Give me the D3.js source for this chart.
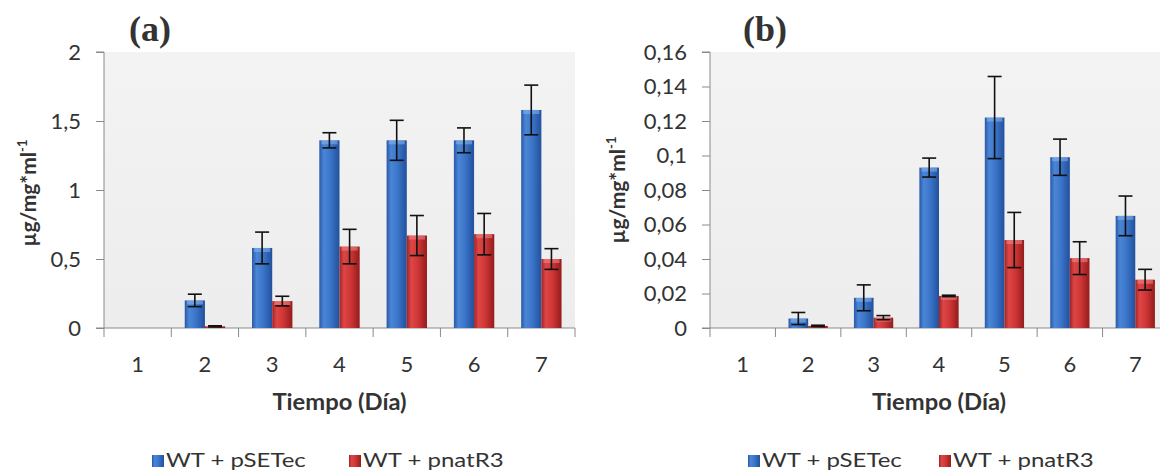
<!DOCTYPE html>
<html>
<head>
<meta charset="utf-8">
<script src="https://cdn.jsdelivr.net/npm/d3@7"></script>
<style>
  html, body { margin: 0; padding: 0; background: #fff; }
  svg { display: block; }
  text { font-family: Lato, "Open Sans", sans-serif; fill: #333; }
</style>
</head>
<body>
<svg id="chart" width="1160" height="473"></svg>
<script>
// Days of culture
const days = ["1", "2", "3", "4", "5", "6", "7"];
const seriesNames = ["WT + pSETec", "WT + pnatR3"];

// Panel (a)
const aSETec     = [0, 0.20, 0.58, 1.36, 1.36, 1.36, 1.58];
const aSETecErr  = [0, 0.045, 0.115, 0.055, 0.145, 0.09, 0.18];
const aNatR3     = [0, 0.012, 0.195, 0.59, 0.67, 0.68, 0.50];
const aNatR3Err  = [0, 0.004, 0.035, 0.125, 0.145, 0.15, 0.075];
const aTicks      = [0, 0.5, 1, 1.5, 2];
const aTickLabels = ["0", "0,5", "1", "1,5", "2"];

// Panel (b)
const bSETec     = [0, 0.0055, 0.0175, 0.093, 0.122, 0.099, 0.065];
const bSETecErr  = [0, 0.0035, 0.0075, 0.0055, 0.0238, 0.0105, 0.0115];
const bNatR3     = [0, 0.0012, 0.006, 0.0186, 0.051, 0.0405, 0.028];
const bNatR3Err  = [0, 0.0004, 0.0012, 0.0004, 0.016, 0.0095, 0.006];
const bTicks      = [0, 0.02, 0.04, 0.06, 0.08, 0.1, 0.12, 0.14, 0.16];
const bTickLabels = ["0", "0,02", "0,04", "0,06", "0,08", "0,1", "0,12", "0,14", "0,16"];

const svg = d3.select("#chart");
const defs = svg.append("defs");

// Cylinder-like shading for the bars
function addGradient(id, stops, vertical) {
  const g = defs.append("linearGradient").attr("id", id)
    .attr("x1", "0%").attr("x2", vertical ? "0%" : "100%")
    .attr("y1", "0%").attr("y2", vertical ? "100%" : "0%");
  stops.forEach(([o, c]) => g.append("stop").attr("offset", o).attr("stop-color", c));
}
addGradient("gBlue", [["0%", "#2a58a6"], ["22%", "#4a86d6"], ["55%", "#3b75c9"], ["100%", "#22509c"]]);
addGradient("gRed",  [["0%", "#a02424"], ["22%", "#de4646"], ["55%", "#cf3636"], ["100%", "#941c1c"]]);
addGradient("gBack", [["0%", "#f3f3f3"], ["100%", "#ededed"]], true);
const fills = ["url(#gBlue)", "url(#gRed)"];
const capFills = ["#8ab8ee", "#f08a8a"];

function drawPanel(cfg) {
  const g = svg.append("g");
  const x = d3.scaleBand().domain(days).range([cfg.left, cfg.right]).paddingInner(0).paddingOuter(0);
  const xs = d3.scaleBand().domain(seriesNames).range([x.bandwidth() * 0.2, x.bandwidth() * 0.8]);
  const y = d3.scaleLinear().domain([0, cfg.max]).range([cfg.bottom, cfg.top]);

  // plot background
  g.append("rect")
    .attr("x", cfg.left).attr("y", cfg.top)
    .attr("width", cfg.right - cfg.left).attr("height", cfg.bottom - cfg.top)
    .attr("fill", "url(#gBack)");

  // y axis
  const yAxis = d3.axisLeft(y).tickValues(cfg.ticks)
    .tickFormat((d, i) => cfg.tickLabels[i]).tickSize(8).tickPadding(15);
  const ya = g.append("g").attr("transform", `translate(${cfg.left},0)`).call(yAxis);
  ya.select(".domain").attr("stroke", "#8a8a8a").attr("d", `M-8,${cfg.top}H0V${cfg.bottom}H-8`);
  ya.selectAll(".tick line").attr("stroke", "#8a8a8a");
  ya.selectAll(".tick text").attr("font-size", 22).attr("fill", "#333")
    .style("font-family", "Lato, sans-serif");

  // x axis: ticks sit between categories
  const edges = days.map(d => x(d)).concat([cfg.right]);
  const xa = g.append("g");
  xa.append("line").attr("x1", cfg.left).attr("x2", cfg.right)
    .attr("y1", cfg.bottom).attr("y2", cfg.bottom).attr("stroke", "#8a8a8a");
  xa.selectAll("line.tk").data(edges).join("line").attr("class", "tk")
    .attr("x1", d => d).attr("x2", d => d)
    .attr("y1", cfg.bottom).attr("y2", cfg.bottom + 9).attr("stroke", "#8a8a8a");
  xa.selectAll("text").data(days).join("text")
    .attr("x", d => x(d) + x.bandwidth() / 2).attr("y", 372)
    .attr("text-anchor", "middle").attr("font-size", 22).text(d => d);

  // bars
  const series = [cfg.s1, cfg.s2];
  const errs = [cfg.e1, cfg.e2];
  series.forEach((vals, si) => {
    const name = seriesNames[si];
    const bars = g.append("g");
    const rows = vals.map((v, i) => ({ day: days[i], v }));
    bars.selectAll("rect.bar").data(rows).join("rect").attr("class", "bar")
      .attr("x", d => x(d.day) + xs(name))
      .attr("y", d => y(d.v))
      .attr("width", xs.bandwidth())
      .attr("height", d => cfg.bottom - y(d.v))
      .attr("fill", fills[si]);
    bars.selectAll("rect.cap").data(rows.filter(d => cfg.bottom - y(d.v) > 6)).join("rect")
      .attr("class", "cap")
      .attr("x", d => x(d.day) + xs(name) + 2)
      .attr("y", d => y(d.v))
      .attr("width", xs.bandwidth() - 4)
      .attr("height", 4)
      .attr("fill", capFills[si]).attr("opacity", 0.55);
  });

  // error bars
  series.forEach((vals, si) => {
    const name = seriesNames[si];
    const eg = g.append("g").attr("stroke", "#111").attr("stroke-width", 1.6);
    vals.forEach((v, i) => {
      if (v === 0) return;
      const cx = x(days[i]) + xs(name) + xs.bandwidth() / 2;
      const hi = y(v + errs[si][i]), lo = y(Math.max(0, v - errs[si][i]));
      eg.append("line").attr("x1", cx).attr("x2", cx).attr("y1", hi).attr("y2", lo);
      eg.append("line").attr("x1", cx - 7).attr("x2", cx + 7).attr("y1", hi).attr("y2", hi);
      eg.append("line").attr("x1", cx - 7).attr("x2", cx + 7).attr("y1", lo).attr("y2", lo);
    });
  });

  // panel letter
  g.append("text").attr("x", cfg.titleX).attr("y", 41)
    .style("font-family", "'Liberation Serif', 'Times New Roman', serif")
    .attr("font-weight", "bold").attr("font-size", 36).attr("fill", "#111").text(cfg.title);

  // y axis title
  const yt = g.append("text")
    .attr("transform", `translate(${cfg.yTitleX},${cfg.yTitleY}) rotate(-90)`)
    .attr("text-anchor", "middle").attr("font-weight", "bold").attr("font-size", 21).attr("fill", "#111");
  yt.append("tspan").text("µg/mg*ml");
  yt.append("tspan").attr("font-size", 13).attr("dy", -9).text("-1");

  // x axis title
  g.append("text")
    .attr("transform", `translate(${(cfg.left + cfg.right) / 2},410) scale(1.08,1)`)
    .attr("text-anchor", "middle").attr("font-weight", "bold").attr("font-size", 22)
    .attr("fill", "#111").text("Tiempo (Día)");

  // legend
  const lg = g.append("g");
  seriesNames.forEach((n, i) => {
    const lx = cfg.legendX[i];
    lg.append("rect").attr("x", lx).attr("y", 455).attr("width", 12).attr("height", 12).attr("fill", fills[i]);
    lg.append("text").attr("transform", `translate(${lx + 14},467) scale(1.2,1)`)
      .attr("font-size", 20).attr("fill", "#222").text(n);
  });
}

drawPanel({
  left: 104, right: 575, top: 52, bottom: 328, max: 2,
  ticks: aTicks, tickLabels: aTickLabels,
  s1: aSETec, e1: aSETecErr, s2: aNatR3, e2: aNatR3Err,
  title: "(a)", titleX: 129, yTitleX: 36, yTitleY: 193,
  legendX: [152, 349]
});

drawPanel({
  left: 710, right: 1168, top: 52, bottom: 328, max: 0.16,
  ticks: bTicks, tickLabels: bTickLabels,
  s1: bSETec, e1: bSETecErr, s2: bNatR3, e2: bNatR3Err,
  title: "(b)", titleX: 743, yTitleX: 625, yTitleY: 190,
  legendX: [748, 939]
});
</script>
</body>
</html>
